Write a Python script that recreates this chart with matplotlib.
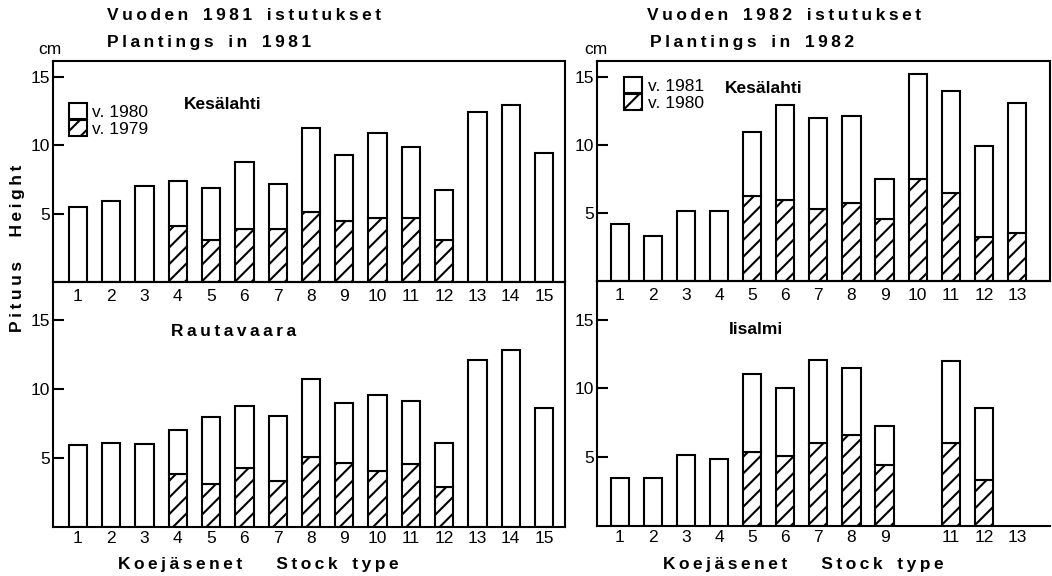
import numpy as np
import matplotlib
matplotlib.use("Agg")
import matplotlib.pyplot as plt
from matplotlib.patches import Patch

plt.rcParams['font.family'] = ['Liberation Sans', 'DejaVu Sans']
plt.rcParams['hatch.linewidth'] = 1.5
plt.rcParams['hatch.color'] = 'black'

# ---- Plantings in 1981 (15 stock types) ----
types_1981 = list(range(1, 16))
kes81_total = [5.5, 5.95, 7.0, 7.4, 6.9, 8.75, 7.2, 11.25, 9.3, 10.9, 9.85, 6.75, 12.45, 12.95, 9.45]
kes81_1979 = [0, 0, 0, 4.1, 3.05, 3.9, 3.9, 5.15, 4.45, 4.65, 4.7, 3.05, 0, 0, 0]
rau81_total = [5.95, 6.1, 6.0, 7.0, 8.0, 8.8, 8.05, 10.75, 9.0, 9.55, 9.1, 6.05, 12.1, 12.8, 8.6]
rau81_1979 = [0, 0, 0, 3.85, 3.15, 4.25, 3.3, 5.05, 4.65, 4.05, 4.6, 2.9, 0, 0, 0]
labels_1981 = [str(t) for t in types_1981]

# ---- Plantings in 1982 (13 stock types) ----
types_1982 = list(range(1, 14))
kes82_total = [4.2, 3.3, 5.15, 5.15, 10.95, 12.9, 12.0, 12.1, 7.5, 15.2, 13.95, 9.9, 13.05]
kes82_1980 = [0, 0, 0, 0, 6.25, 5.95, 5.3, 5.7, 4.55, 7.5, 6.45, 3.25, 3.5]
iis82_total = [3.5, 3.5, 5.15, 4.9, 11.05, 10.05, 12.05, 11.5, 7.3, np.nan, 12.0, 8.55, np.nan]
iis82_1980 = [0, 0, 0, 0, 5.4, 5.05, 6.05, 6.6, 4.4, np.nan, 6.05, 3.35, np.nan]
labels_1982 = [str(t) for t in types_1982]
labels_1982_iis = ['1', '2', '3', '4', '5', '6', '7', '8', '9', '', '11', '12', '13']

W, H = 1052, 576
LW = 1.5
BAR_W = 0.55


def box(x0, y0, x1, y1):
    return [x0 / W, 1 - y1 / H, (x1 - x0) / W, (y1 - y0) / H]


def spaced(text, gap='\u2009'):
    return gap.join(text)


def draw_bars(ax, types, total, early):
    x = np.asarray(types, dtype=float)
    total = np.asarray(total, dtype=float)
    early = np.asarray(early, dtype=float)
    ok = ~np.isnan(total)
    x, total, early = x[ok], total[ok], early[ok]
    ax.bar(x, early, width=BAR_W, bottom=0, facecolor='white', edgecolor='black',
           linewidth=LW, hatch='//', zorder=2)
    ax.bar(x, total - early, width=BAR_W, bottom=early, facecolor='white',
           edgecolor='black', linewidth=LW, zorder=2)


def style(ax, xlim, ylim, labels, ticks, pad_x):
    ax.set_xlim(*xlim)
    ax.set_ylim(*ylim)
    ax.set_facecolor('none')
    ax.set_yticks([5, 10, 15])
    ax.set_yticklabels(['5', '10', '15'])
    ax.set_xticks(ticks)
    ax.set_xticklabels(labels)
    ax.tick_params(axis='y', direction='in', length=8, width=LW, pad=2, labelsize=12.5)
    ax.tick_params(axis='x', length=0, pad=pad_x, labelsize=12.5)
    for s in ax.spines.values():
        s.set_linewidth(LW)


fig = plt.figure(figsize=(W / 100, H / 100), dpi=100)

ax_kes81 = fig.add_axes(box(53, 61, 565, 282))
ax_rau81 = fig.add_axes(box(53, 282, 565, 527))
ax_kes82 = fig.add_axes(box(597, 61, 1050, 281))
ax_iis82 = fig.add_axes(box(597, 281, 1050, 526))

draw_bars(ax_kes81, types_1981, kes81_total, kes81_1979)
draw_bars(ax_rau81, types_1981, rau81_total, rau81_1979)
draw_bars(ax_kes82, types_1982, kes82_total, kes82_1980)
draw_bars(ax_iis82, types_1982, iis82_total, iis82_1980)

style(ax_kes81, (0.25, 15.63), (0, 16.17), labels_1981, types_1981, 5)
style(ax_rau81, (0.25, 15.63), (0, 17.75), labels_1981, types_1981, 3)
style(ax_kes82, (0.31, 14.0), (0, 16.17), labels_1982, types_1982, 5)
style(ax_iis82, (0.31, 14.0), (0, 17.8), labels_1982_iis, types_1982, 3)
ax_iis82.spines['right'].set_visible(False)

# site names
name_kw = dict(fontsize=12.5, ha='center', va='center', fontweight='bold')
ax_kes81.text(0.332, 0.805, 'Kesälahti', transform=ax_kes81.transAxes, **name_kw)
ax_rau81.text(0.352, 0.796, spaced('Rautavaara'), transform=ax_rau81.transAxes, **name_kw)
ax_kes82.text(0.369, 0.873, 'Kesälahti', transform=ax_kes82.transAxes, **name_kw)
ax_iis82.text(0.351, 0.804, 'Iisalmi', transform=ax_iis82.transAxes, **name_kw)


# legends: white box = later growth, hatched box = earlier growth
def legend(ax, new, old, anchor):
    handles = [Patch(facecolor='white', edgecolor='black', linewidth=LW),
               Patch(facecolor='white', edgecolor='black', linewidth=LW, hatch='//')]
    ax.legend(handles, [new, old], loc='upper left', bbox_to_anchor=anchor,
              frameon=False, fontsize=12.5, handlelength=1.05, handleheight=1.05,
              handletextpad=0.3, labelspacing=0.0, borderpad=0, borderaxespad=0)


legend(ax_kes81, 'v. 1980', 'v. 1979', (0.031, 0.81))
legend(ax_kes82, 'v. 1981', 'v. 1980', (0.06, 0.928))

# headings and axis titles
title_kw = dict(fontsize=12.5, fontweight='bold', ha='left', va='center')
fig.text(107 / W, 1 - 15 / H, spaced('Vuoden') + '   ' + spaced('1981') + '   ' + spaced('istutukset'), **title_kw)
fig.text(107 / W, 1 - 43 / H, spaced('Plantings') + '   ' + spaced('in') + '   ' + spaced('1981'), **title_kw)
fig.text(647 / W, 1 - 16 / H, spaced('Vuoden') + '   ' + spaced('1982') + '   ' + spaced('istutukset'), **title_kw)
fig.text(650 / W, 1 - 43 / H, spaced('Plantings') + '   ' + spaced('in') + '   ' + spaced('1982'), **title_kw)

fig.text(50 / W, 1 - 50 / H, 'cm', fontsize=12.5, ha='center', va='center')
fig.text(596 / W, 1 - 49 / H, 'cm', fontsize=12.5, ha='center', va='center')

fig.text(18 / W, 1 - 248 / H, spaced('Pituus') + '     ' + spaced('Height'), rotation=90,
         fontsize=12.5, fontweight='bold', ha='center', va='center')

xl_kw = dict(fontsize=12.5, fontweight='bold', ha='center', va='center')
xlabel = spaced('Koejäsenet') + '       ' + spaced('Stock') + '   ' + spaced('type')
fig.text(258 / W, 1 - 565 / H, xlabel, **xl_kw)
fig.text(803 / W, 1 - 565 / H, xlabel, **xl_kw)

fig.savefig('out.png', dpi=100)
